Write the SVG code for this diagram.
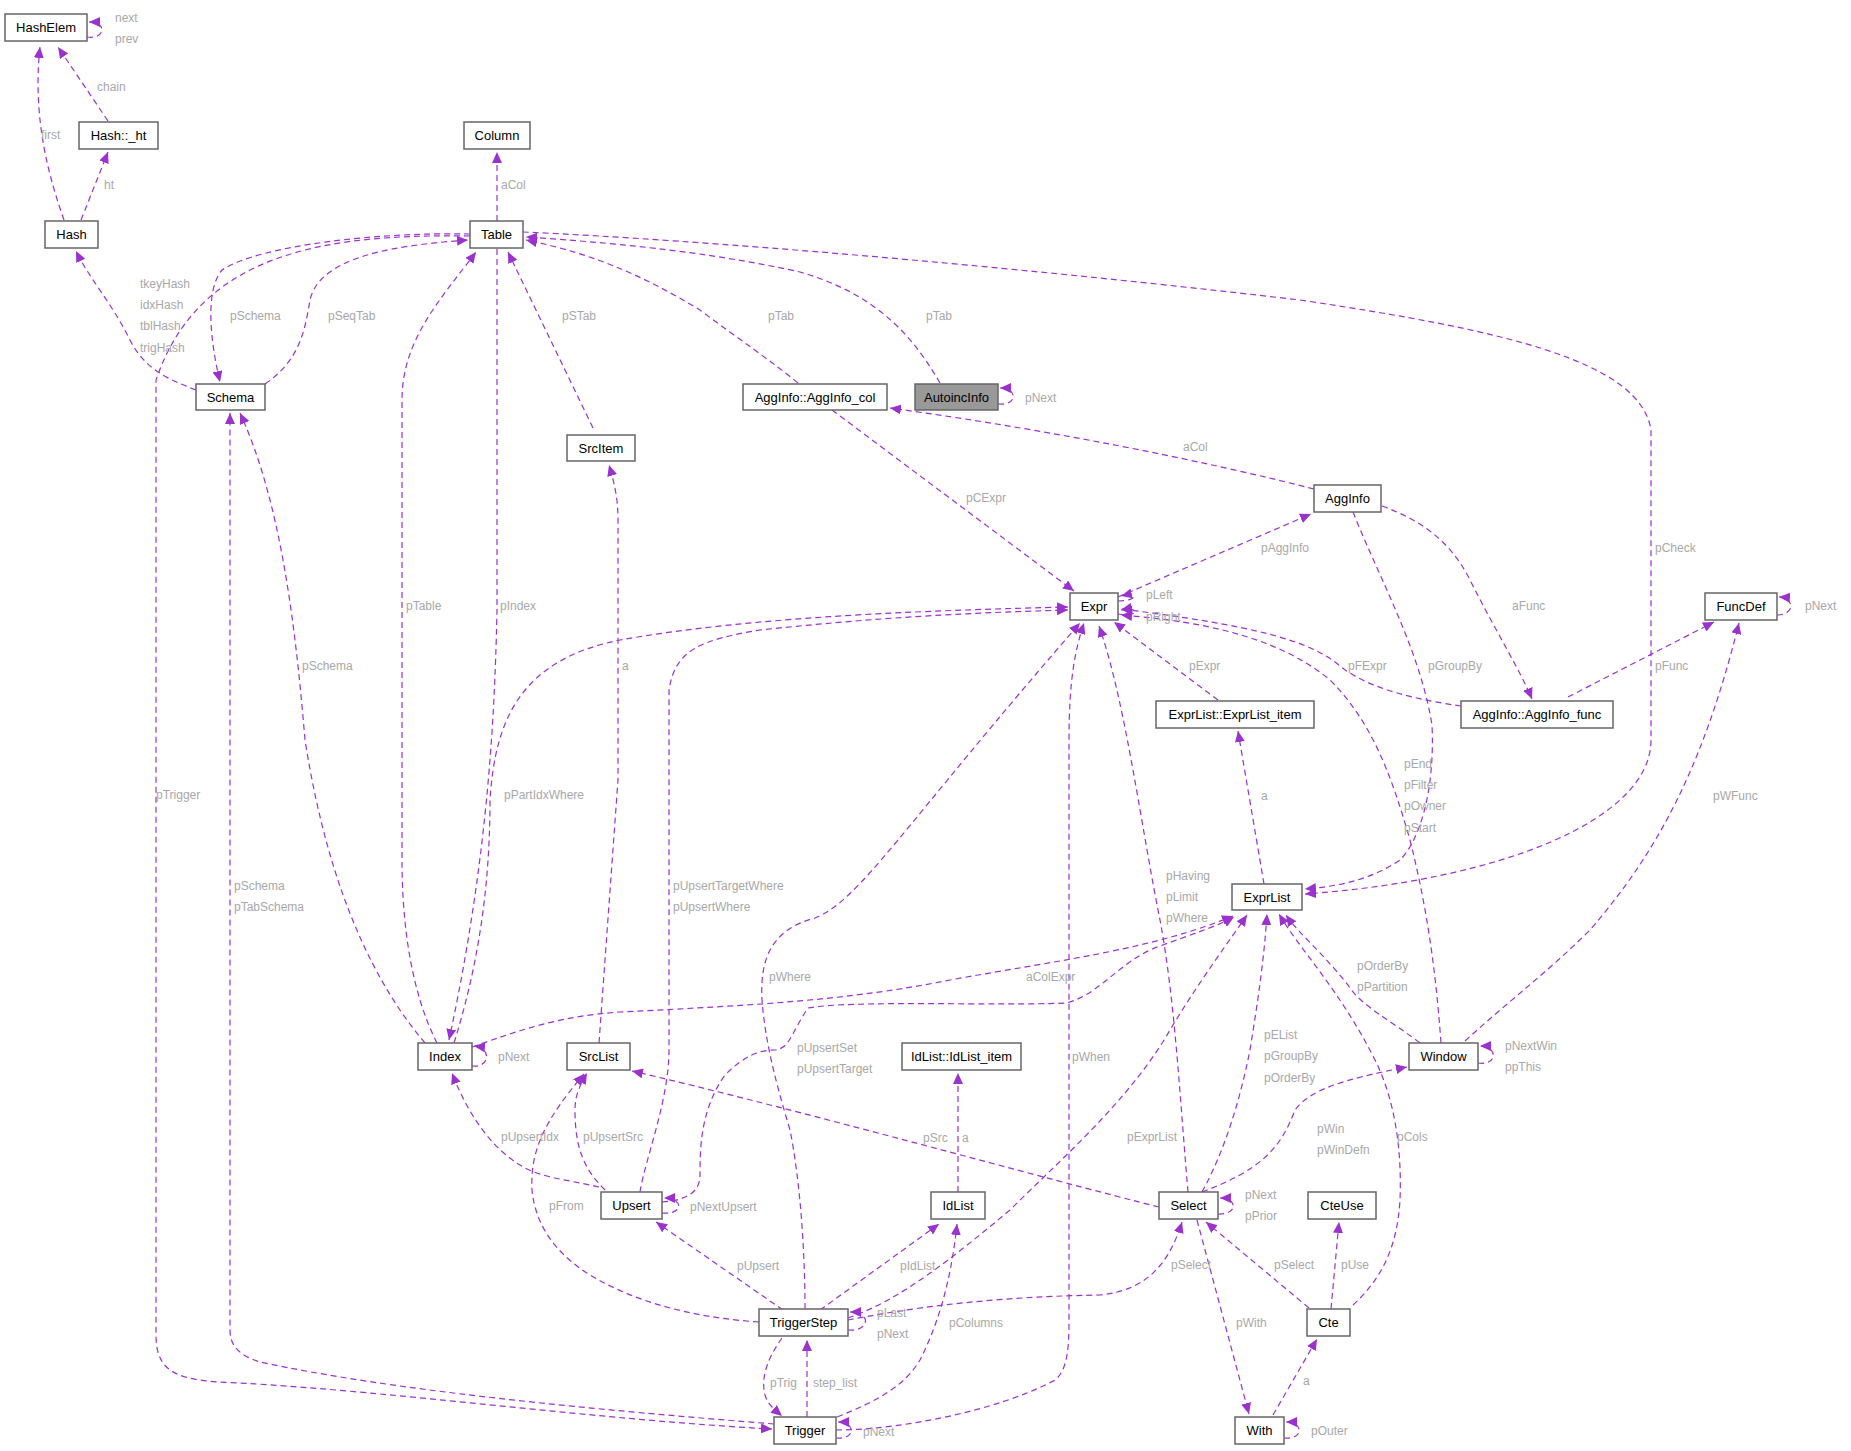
<svg xmlns="http://www.w3.org/2000/svg" width="1851" height="1451" viewBox="0 0 1851 1451">
<style>
.n rect{fill:#fff;stroke:#666;stroke-width:1.5}
.n text{font-family:"Liberation Sans",Arial,sans-serif;font-size:13px;fill:#000;text-anchor:middle}
.e{fill:none;stroke:#9a32cd;stroke-width:1.2;stroke-dasharray:6,4;marker-end:url(#a)}
.l{font-family:"Liberation Sans",Arial,sans-serif;font-size:12px;fill:#a8a8a8}
</style>
<defs><marker id="a" markerWidth="12" markerHeight="10" refX="11" refY="5" orient="auto" markerUnits="userSpaceOnUse"><path d="M0,0L11,5L0,10z" fill="#9a32cd"/></marker></defs>
<rect width="1851" height="1451" fill="#fff"/>
<g id="connectors">
<path class="e" d="M87,37C105,40 108,22 89,22"/>
<path class="e" d="M108,121L58,47"/>
<path class="e" d="M64,220C50,180 32,120 40,47"/>
<path class="e" d="M81,220L108,152"/>
<path class="e" d="M497,221L497,152"/>
<path class="e" d="M196,390C170,380 145,370 130,340C110,300 90,280 76,251"/>
<path class="e" d="M470,236C330,234 200,250 156,380L156,1335C156,1375 180,1381 240,1383C400,1392 600,1420 772,1429"/>
<path class="e" d="M774,1424C600,1410 400,1392 260,1362C238,1355 230,1345 230,1330L230,413"/>
<path class="e" d="M425,1043C380,990 330,900 305,740C295,620 280,500 240,413"/>
<path class="e" d="M437,1043C410,990 402,920 402,860L402,400C402,340 440,300 476,252"/>
<path class="e" d="M497,249L497,610C495,700 490,850 449,1040"/>
<path class="e" d="M454,1043C480,960 490,880 490,800C495,720 520,660 620,640C760,615 950,610 1068,607"/>
<path class="e" d="M470,234C380,232 260,245 222,270C205,290 210,340 220,382"/>
<path class="e" d="M265,384C300,360 305,330 310,300C320,255 400,245 468,240"/>
<path class="e" d="M599,1043L618,780L618,520C618,500 615,485 609,465"/>
<path class="e" d="M593,428L508,252"/>
<path class="e" d="M798,383C770,360 740,340 700,310C650,280 600,255 526,240"/>
<path class="e" d="M940,383C915,340 880,295 800,272C700,250 600,242 526,237"/>
<path class="e" d="M523,232C700,240 1000,265 1300,300C1500,330 1640,360 1651,430L1651,740C1651,820 1500,880 1305,894"/>
<path class="e" d="M1353,512C1380,580 1420,650 1432,725C1435,790 1420,840 1400,860C1370,880 1340,886 1305,889"/>
<path class="e" d="M1441,1043C1435,960 1425,900 1410,840C1390,770 1370,720 1330,680C1270,630 1180,620 1121,615"/>
<path class="e" d="M1314,489C1200,460 1050,430 890,408"/>
<path class="e" d="M832,410L1074,591"/>
<path class="e" d="M1118,597L1311,514"/>
<path class="e" d="M1118,601C1138,601 1138,592 1121,596"/>
<path class="e" d="M1118,614C1140,618 1140,606 1121,610"/>
<path class="e" d="M1382,506C1420,520 1450,540 1470,580C1495,630 1520,670 1532,699"/>
<path class="e" d="M1461,706C1420,700 1370,690 1340,666C1310,640 1250,625 1121,609"/>
<path class="e" d="M1568,697L1714,622"/>
<path class="e" d="M1777,615C1795,615 1795,598 1779,597"/>
<path class="e" d="M1218,700L1114,622"/>
<path class="e" d="M1264,884L1238,731"/>
<path class="e" d="M1465,1041C1510,1000 1550,970 1590,930C1650,860 1700,780 1739,623"/>
<path class="e" d="M1420,1043C1390,1020 1360,1005 1348,985C1320,950 1300,935 1286,915"/>
<path class="e" d="M1478,1063C1498,1066 1498,1046 1480,1046"/>
<path class="e" d="M1202,1192C1260,1170 1280,1150 1295,1110C1310,1090 1340,1080 1407,1067"/>
<path class="e" d="M1218,1214C1238,1215 1238,1198 1220,1198"/>
<path class="e" d="M472,1066C490,1068 492,1048 474,1046"/>
<path class="e" d="M472,1047C520,1030 560,1016 620,1012C760,1005 850,1000 950,980C1060,960 1150,950 1233,916"/>
<path class="e" d="M640,1192C645,1160 669,1100 669,1050L669,690C675,650 700,640 760,630C900,615 1000,612 1068,610"/>
<path class="e" d="M662,1202C690,1200 700,1190 700,1175C700,1150 700,1110 725,1075C745,1055 760,1050 775,1050C790,1048 790,1035 808,1008C850,1000 1000,1006 1066,1003C1100,995 1120,960 1160,946C1190,935 1220,925 1234,917"/>
<path class="e" d="M662,1213C684,1215 684,1198 664,1198"/>
<path class="e" d="M805,1309C805,1250 800,1180 790,1130C775,1080 765,1040 762,1000C760,960 770,930 815,918C860,900 900,830 1080,623"/>
<path class="e" d="M836,1430C900,1430 1000,1410 1055,1380C1068,1370 1069,1345 1069,1320L1069,740C1069,680 1075,650 1084,623"/>
<path class="e" d="M836,1438C856,1440 856,1422 838,1422"/>
<path class="e" d="M837,1417C880,1400 905,1385 920,1360C935,1330 950,1290 957,1224"/>
<path class="e" d="M1188,1192C1180,1100 1175,1000 1160,920C1140,820 1125,700 1099,626"/>
<path class="e" d="M848,1318C900,1300 950,1260 1010,1210C1060,1160 1130,1100 1170,1030C1200,980 1230,940 1247,915"/>
<path class="e" d="M848,1320C900,1310 980,1297 1100,1295C1150,1290 1170,1260 1182,1222"/>
<path class="e" d="M848,1330C870,1332 872,1312 850,1312"/>
<path class="e" d="M820,1310L939,1224"/>
<path class="e" d="M783,1310L656,1222"/>
<path class="e" d="M759,1322C700,1318 640,1305 590,1275C550,1250 535,1220 532,1190C530,1150 545,1120 584,1074"/>
<path class="e" d="M605,1190C585,1170 575,1150 575,1110C575,1095 580,1085 587,1073"/>
<path class="e" d="M599,1187C570,1180 540,1178 520,1165C495,1150 470,1120 452,1073"/>
<path class="e" d="M1159,1207C1050,1180 800,1110 632,1071"/>
<path class="e" d="M958,1192L958,1073"/>
<path class="e" d="M782,1338C770,1355 760,1375 765,1395C768,1405 775,1410 782,1416"/>
<path class="e" d="M807,1417L807,1340"/>
<path class="e" d="M1197,1220L1249,1414"/>
<path class="e" d="M1309,1308L1206,1222"/>
<path class="e" d="M1331,1309L1339,1222"/>
<path class="e" d="M1353,1305C1380,1280 1397,1250 1400,1200C1402,1150 1395,1100 1375,1060C1340,990 1300,950 1279,914"/>
<path class="e" d="M1273,1415L1317,1339"/>
<path class="e" d="M1284,1438C1304,1440 1304,1422 1286,1422"/>
<path class="e" d="M1202,1192C1225,1150 1240,1100 1250,1050C1258,1000 1264,960 1267,914"/>
<path class="e" d="M998,404C1018,406 1018,388 1000,388"/>
</g>
<g id="labels">
<text class="l" x="115" y="22">next</text><text class="l" x="115" y="43">prev</text>
<text class="l" x="97" y="91">chain</text><text class="l" x="41" y="139">first</text>
<text class="l" x="104" y="189">ht</text><text class="l" x="501" y="189">aCol</text>
<text class="l" x="140" y="288">tkeyHash</text><text class="l" x="140" y="309">idxHash</text><text class="l" x="140" y="330">tblHash</text><text class="l" x="140" y="352">trigHash</text>
<text class="l" x="230" y="320">pSchema</text><text class="l" x="328" y="320">pSeqTab</text>
<text class="l" x="562" y="320">pSTab</text><text class="l" x="768" y="320">pTab</text><text class="l" x="926" y="320">pTab</text>
<text class="l" x="1025" y="402">pNext</text><text class="l" x="1183" y="451">aCol</text>
<text class="l" x="966" y="502">pCExpr</text><text class="l" x="1261" y="552">pAggInfo</text><text class="l" x="1655" y="552">pCheck</text>
<text class="l" x="1146" y="599">pLeft</text><text class="l" x="1146" y="621">pRight</text>
<text class="l" x="1512" y="610">aFunc</text><text class="l" x="1805" y="610">pNext</text>
<text class="l" x="406" y="610">pTable</text><text class="l" x="500" y="610">pIndex</text>
<text class="l" x="1189" y="670">pExpr</text><text class="l" x="1348" y="670">pFExpr</text><text class="l" x="1428" y="670">pGroupBy</text><text class="l" x="1655" y="670">pFunc</text>
<text class="l" x="302" y="670">pSchema</text><text class="l" x="622" y="670">a</text>
<text class="l" x="156" y="799">pTrigger</text><text class="l" x="504" y="799">pPartIdxWhere</text>
<text class="l" x="1261" y="800">a</text><text class="l" x="1713" y="800">pWFunc</text>
<text class="l" x="1404" y="768">pEnd</text><text class="l" x="1404" y="789">pFilter</text><text class="l" x="1404" y="810">pOwner</text><text class="l" x="1404" y="832">pStart</text>
<text class="l" x="234" y="890">pSchema</text><text class="l" x="234" y="911">pTabSchema</text>
<text class="l" x="673" y="890">pUpsertTargetWhere</text><text class="l" x="673" y="911">pUpsertWhere</text>
<text class="l" x="1166" y="880">pHaving</text><text class="l" x="1166" y="901">pLimit</text><text class="l" x="1166" y="922">pWhere</text>
<text class="l" x="769" y="981">pWhere</text><text class="l" x="1026" y="981">aColExpr</text>
<text class="l" x="1357" y="970">pOrderBy</text><text class="l" x="1357" y="991">pPartition</text>
<text class="l" x="797" y="1052">pUpsertSet</text><text class="l" x="797" y="1073">pUpsertTarget</text>
<text class="l" x="498" y="1061">pNext</text><text class="l" x="1072" y="1061">pWhen</text>
<text class="l" x="1264" y="1039">pEList</text><text class="l" x="1264" y="1060">pGroupBy</text><text class="l" x="1264" y="1082">pOrderBy</text>
<text class="l" x="1505" y="1050">pNextWin</text><text class="l" x="1505" y="1071">ppThis</text>
<text class="l" x="501" y="1141">pUpsertIdx</text><text class="l" x="583" y="1141">pUpsertSrc</text>
<text class="l" x="923" y="1142">pSrc</text><text class="l" x="962" y="1142">a</text>
<text class="l" x="1127" y="1141">pExprList</text><text class="l" x="1317" y="1133">pWin</text><text class="l" x="1317" y="1154">pWinDefn</text><text class="l" x="1397" y="1141">pCols</text>
<text class="l" x="549" y="1210">pFrom</text><text class="l" x="690" y="1211">pNextUpsert</text>
<text class="l" x="1245" y="1199">pNext</text><text class="l" x="1245" y="1220">pPrior</text>
<text class="l" x="737" y="1270">pUpsert</text><text class="l" x="900" y="1270">pIdList</text>
<text class="l" x="1171" y="1269">pSelect</text><text class="l" x="1274" y="1269">pSelect</text><text class="l" x="1341" y="1269">pUse</text>
<text class="l" x="877" y="1317">pLast</text><text class="l" x="877" y="1338">pNext</text>
<text class="l" x="949" y="1327">pColumns</text><text class="l" x="1236" y="1327">pWith</text>
<text class="l" x="770" y="1387">pTrig</text><text class="l" x="813" y="1387">step_list</text><text class="l" x="1303" y="1385">a</text>
<text class="l" x="863" y="1436">pNext</text><text class="l" x="1311" y="1435">pOuter</text>
</g>
<g id="HashElem" class="n"><rect x="5" y="14" width="82" height="27"/><text x="46" y="32">HashElem</text></g>
<g id="Hash_ht" class="n"><rect x="79" y="122" width="79" height="27"/><text x="118.5" y="140">Hash::_ht</text></g>
<g id="Column" class="n"><rect x="464" y="122" width="66" height="27"/><text x="497" y="140">Column</text></g>
<g id="Hash" class="n"><rect x="45" y="221" width="53" height="27"/><text x="71.5" y="239">Hash</text></g>
<g id="Table" class="n"><rect x="470" y="221" width="53" height="27"/><text x="496.5" y="239">Table</text></g>
<g id="Schema" class="n"><rect x="196" y="384" width="69" height="26"/><text x="230.5" y="402">Schema</text></g>
<g id="AggInfo_col" class="n"><rect x="743" y="384" width="144" height="26"/><text x="815" y="402">AggInfo::AggInfo_col</text></g>
<g id="AutoincInfo" class="n"><rect x="915" y="384" width="83" height="26" style="fill:#999"/><text x="956.5" y="402">AutoincInfo</text></g>
<g id="SrcItem" class="n"><rect x="567" y="435" width="68" height="26"/><text x="601" y="453">SrcItem</text></g>
<g id="AggInfo" class="n"><rect x="1314" y="485" width="67" height="27"/><text x="1347.5" y="503">AggInfo</text></g>
<g id="Expr" class="n"><rect x="1070" y="593" width="48" height="27"/><text x="1094" y="611">Expr</text></g>
<g id="FuncDef" class="n"><rect x="1705" y="593" width="72" height="27"/><text x="1741" y="611">FuncDef</text></g>
<g id="ExprList_item" class="n"><rect x="1156" y="701" width="158" height="27"/><text x="1235" y="719">ExprList::ExprList_item</text></g>
<g id="AggInfo_func" class="n"><rect x="1461" y="701" width="152" height="27"/><text x="1537" y="719">AggInfo::AggInfo_func</text></g>
<g id="ExprList" class="n"><rect x="1232" y="884" width="70" height="26"/><text x="1267" y="902">ExprList</text></g>
<g id="Index" class="n"><rect x="418" y="1043" width="54" height="27"/><text x="445" y="1061">Index</text></g>
<g id="SrcList" class="n"><rect x="567" y="1043" width="63" height="27"/><text x="598.5" y="1061">SrcList</text></g>
<g id="IdList_item" class="n"><rect x="902" y="1043" width="119" height="27"/><text x="961.5" y="1061">IdList::IdList_item</text></g>
<g id="Window" class="n"><rect x="1409" y="1043" width="69" height="27"/><text x="1443.5" y="1061">Window</text></g>
<g id="Upsert" class="n"><rect x="601" y="1192" width="61" height="27"/><text x="631.5" y="1210">Upsert</text></g>
<g id="IdList" class="n"><rect x="931" y="1192" width="54" height="27"/><text x="958" y="1210">IdList</text></g>
<g id="Select" class="n"><rect x="1159" y="1192" width="59" height="27"/><text x="1188.5" y="1210">Select</text></g>
<g id="CteUse" class="n"><rect x="1308" y="1192" width="68" height="27"/><text x="1342" y="1210">CteUse</text></g>
<g id="TriggerStep" class="n"><rect x="759" y="1309" width="89" height="27"/><text x="803.5" y="1327">TriggerStep</text></g>
<g id="Cte" class="n"><rect x="1307" y="1309" width="43" height="27"/><text x="1328.5" y="1327">Cte</text></g>
<g id="Trigger" class="n"><rect x="774" y="1417" width="62" height="27"/><text x="805" y="1435">Trigger</text></g>
<g id="With" class="n"><rect x="1235" y="1417" width="49" height="27"/><text x="1259.5" y="1435">With</text></g>
</svg>
